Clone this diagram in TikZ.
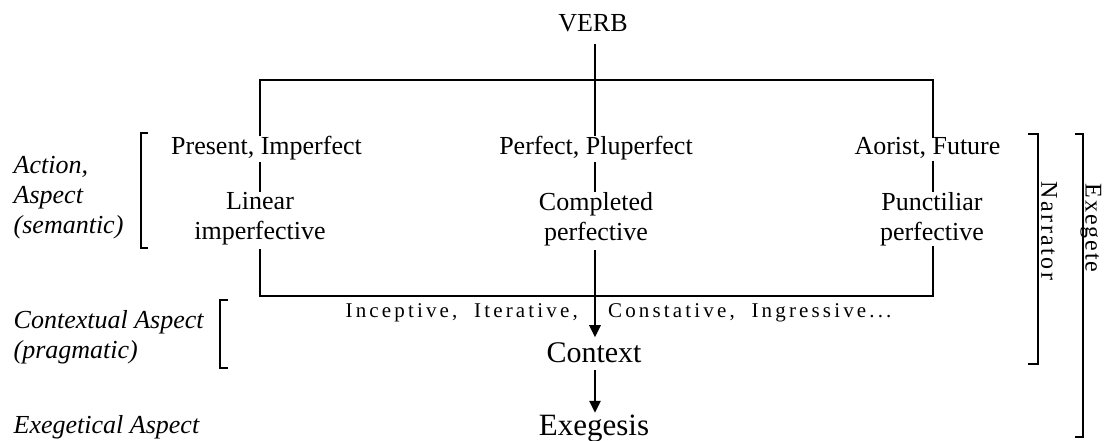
\documentclass[tikz,border=0pt]{standalone}
\usepackage{fontspec}
\setmainfont{Liberation Serif}
\newfontfamily\spacedfont[LetterSpace=15]{Liberation Serif}
\newfontfamily\narfont[LetterSpace=10]{Liberation Serif}
\newfontfamily\exefont[LetterSpace=8]{Liberation Serif}
\usetikzlibrary{arrows.meta}
\begin{document}
\begin{tikzpicture}[x=1pt,y=-1pt,
  txt/.style={inner sep=0pt, font=\fontsize{26}{30}\selectfont, align=center},
  lab/.style={inner sep=0pt, font=\fontsize{26}{30}\selectfont\itshape, align=left},
  ln/.style={line width=2.6pt},
  br/.style={line width=2pt},
  arr/.style={line width=2.6pt, -{Triangle[width=11pt,length=12pt]}},
]
\useasboundingbox[fill=white] (0,0) rectangle (1112,441);
\coordinate (cL) at (260,0);
\coordinate (cC) at (595,0);
\coordinate (cR) at (933,0);
\coordinate (tl) at (260,80);
\coordinate (tr) at (933,80);
\coordinate (bl) at (260,296);
\coordinate (bR) at (933,296);

\node[inner sep=0pt, font=\fontsize{26}{30}\selectfont, anchor=base] (verb) at (593,32) {VERB};

\node[txt, anchor=base] (pi) at (266.5,155) {Present, Imperfect};
\node[txt, anchor=base] (pp) at (596,155) {Perfect, Pluperfect};
\node[txt, anchor=base] (af) at (927.5,155) {Aorist, Future};

\node[txt, anchor=north] (li) at (260,192) {Linear\\imperfective};
\node[txt, anchor=north] (cp) at (596,192) {Completed\\perfective};
\node[txt, anchor=north] (pu) at (932,192) {Punctiliar\\perfective};

\node[inner sep=0pt, font=\spacedfont\fontsize{21}{25}\selectfont, anchor=base east] (ctxa) at (578,317) {Inceptive,\ \ Iterative,};
\node[inner sep=0pt, font=\spacedfont\fontsize{21}{25}\selectfont, anchor=base west] (ctxb) at (608,317) {Constative,\ \ Ingressive...};

\node[inner sep=0pt, font=\fontsize{30}{34}\selectfont, anchor=base] (ctx) at (594,362) {Context};
\node[inner sep=0pt, font=\fontsize{31}{35}\selectfont, anchor=base] (ex) at (594,435) {Exegesis};

\node[lab, anchor=north west] (act) at (13.5,155.6) {Action,\\Aspect\\(semantic)};
\node[lab, anchor=north west] (cont) at (13.5,310.5) {Contextual Aspect\\(pragmatic)};
\node[lab, anchor=base west] (exa) at (13.5,433) {Exegetical Aspect};

\node[inner sep=0pt, rotate=-90, font=\narfont\fontsize{24}{28}\selectfont] (nar) at (1049,231) {Narrator};
\node[inner sep=0pt, rotate=-90, font=\exefont\fontsize{24}{28}\selectfont] (exe) at (1091,228) {Exegete};

% tree lines
\draw[ln] ([yshift=-11pt]verb.south -| cC) -- (pp.north -| cC);
\draw[ln] (pi.north -| cL) -- (tl) -- (tr) -- (af.north -| cR);
\draw[ln, shorten <=1.5pt] (pi.south -| cL) -- (li.north -| cL);
\draw[ln, shorten <=1.5pt] (pp.south -| cC) -- (cp.north -| cC);
\draw[ln, shorten <=1.5pt] (af.south -| cR) -- (pu.north -| cR);
\draw[ln, shorten <=4pt] (li.south -| cL) -- (bl) -- (bR) -- (pu.south -| cR);
\draw[arr, shorten <=4pt, shorten >=4.7pt] (cp.south -| cC) -- (ctx.north -| cC);
\draw[arr, shorten <=8pt, shorten >=1.5pt] (ctx.south -| cC) -- (ex.north -| cC);

% brackets
\draw[br] (148,133) -- (141,133) -- (141,248) -- (148,248);
\draw[br] (228,300) -- (220,300) -- (220,368) -- (228,368);
\draw[br] (1028,134) -- (1038,134) -- (1038,364) -- (1028,364);
\draw[br] (1075,134) -- (1083,134) -- (1083,437) -- (1075,437);
\end{tikzpicture}
\end{document}
